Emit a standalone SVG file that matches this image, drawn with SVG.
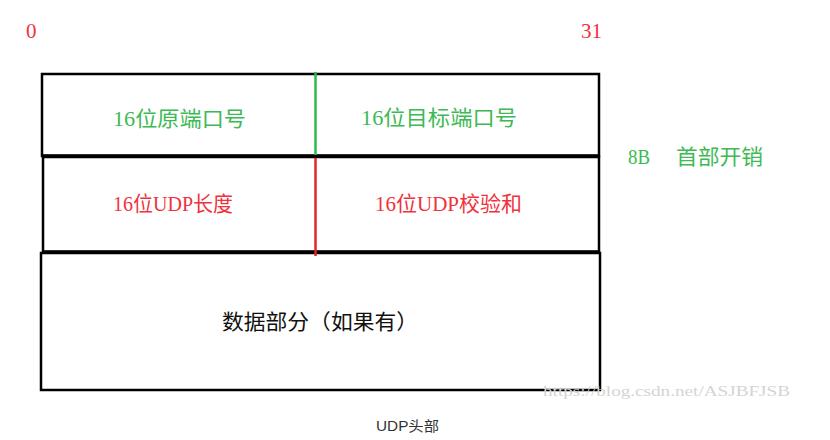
<svg xmlns="http://www.w3.org/2000/svg" width="830" height="440" viewBox="0 0 830 440">
<style>
.cell{fill:#fff;stroke:#000;stroke-width:2.5}
.t{font-family:"Liberation Serif","Noto Sans CJK SC",serif;font-size:21px;text-anchor:start}
.g{fill:#3dba55}
.r{fill:#f0323c}
.k{fill:#111}
</style>
<rect width="830" height="440" fill="#fff"/>
<text class="t r" x="26" y="38" font-size="19">0</text>
<text class="t r" x="581" y="38" font-size="19">31</text>
<g id="row1">
<rect class="cell" x="42" y="74" width="557" height="82"/>
<text class="t g" x="113" y="126" textLength="133" lengthAdjust="spacingAndGlyphs">16位原端口号</text>
<text class="t g" x="361" y="125" textLength="156" lengthAdjust="spacingAndGlyphs">16位目标端口号</text>
</g>
<g id="row2">
<rect class="cell" x="43" y="157" width="556" height="95"/>
<text class="t r" x="113" y="211" textLength="120" lengthAdjust="spacingAndGlyphs">16位UDP长度</text>
<text class="t r" x="375" y="211" textLength="147" lengthAdjust="spacingAndGlyphs">16位UDP校验和</text>
</g>
<g id="row3">
<rect class="cell" x="41" y="253" width="559" height="137"/>
<text class="t k" x="222" y="329" textLength="196" lengthAdjust="spacingAndGlyphs">数据部分（如果有）</text>
</g>
<g id="separators" stroke-width="2.5">
<line x1="42" y1="156" x2="600" y2="156" stroke="#000" stroke-width="3.5"/>
<line x1="42" y1="252" x2="600" y2="252" stroke="#000" stroke-width="3.5"/>
<line x1="315.5" y1="72" x2="315.5" y2="155" stroke="#2db84a"/>
<line x1="315.5" y1="158" x2="315.5" y2="256" stroke="#e8202a"/>
</g>
<g id="label">
<text class="t g" x="628" y="164" textLength="22" lengthAdjust="spacingAndGlyphs">8B</text>
<text class="t g" x="676" y="164" textLength="87" lengthAdjust="spacingAndGlyphs">首部开销</text>
</g>
<text x="543" y="396" font-family="Liberation Serif,serif" font-size="15" fill="#d4d4d4" textLength="247" lengthAdjust="spacingAndGlyphs">https://blog.csdn.net/ASJBFJSB</text>
<text x="376" y="431" font-family="Liberation Sans,Noto Sans CJK SC,sans-serif" font-size="14" fill="#333" textLength="63" lengthAdjust="spacingAndGlyphs">UDP头部</text>
</svg>
